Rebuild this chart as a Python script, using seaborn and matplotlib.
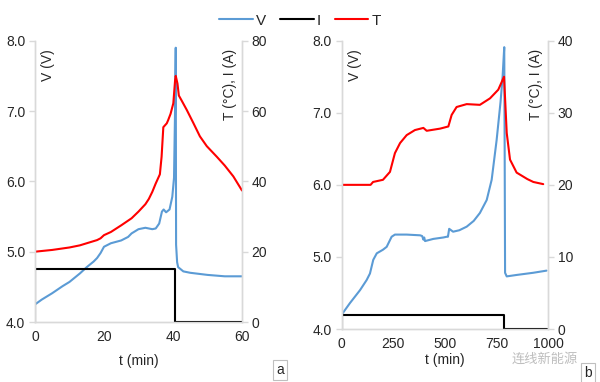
import matplotlib
matplotlib.use('Agg')
import matplotlib.pyplot as plt
from matplotlib.lines import Line2D
import seaborn as sns

sns.set_style('white')
plt.rcParams['font.family'] = ['Liberation Sans', 'DejaVu Sans']
plt.rcParams['font.size'] = 10

BLUE, BLACK, RED = '#5B9BD5', '#000000', '#FF0000'
GRID = '#D9D9D9'

# ---- panel a : 15 A charge ----
a_tv = [0, 2, 5, 8, 10, 13, 15, 17, 18, 19, 20, 22, 25, 27, 28, 30, 32, 34, 35, 36, 36.8, 37.3,
        38, 39, 39.8, 40.3, 40.6, 40.8, 40.9, 41.2, 41.5, 43, 45, 50, 55, 60]
a_v = [4.25, 4.32, 4.41, 4.51, 4.57, 4.69, 4.78, 4.86, 4.91, 4.98, 5.07, 5.12, 5.16, 5.21, 5.26,
       5.32, 5.34, 5.32, 5.33, 5.40, 5.57, 5.60, 5.56, 5.60, 5.78, 6.05, 7.0, 7.9, 5.1, 4.85,
       4.78, 4.72, 4.70, 4.67, 4.65, 4.65]
a_ti = [0, 0, 40.6, 40.6, 60]
a_i = [0, 15, 15, 0, 0]
a_tt = [0, 5, 10, 13, 15, 18, 19, 20, 22, 25, 28, 30, 32, 33, 34, 35, 36.2, 36.7, 37.2, 38.2,
        38.6, 39.3, 40.1, 40.6, 40.8, 41.3, 41.7, 42.5, 44, 45.9, 47.8, 49.8, 52.7, 55, 57.5, 60]
a_t = [20, 20.5, 21.2, 21.8, 22.4, 23.3, 23.8, 24.7, 25.6, 27.5, 29.5, 31.4, 33.5, 35, 37, 39.4,
       42, 47, 55.4, 56.5, 57.4, 59.2, 62.2, 68.6, 70, 67.8, 64.4, 63, 60.3, 56.6, 52.8, 50, 47,
       44.5, 41.4, 37.4]

# ---- panel b : 2 A charge ----
b_tv = [0, 40, 89, 121, 137, 153, 170, 200, 218, 242, 258, 315, 380, 390, 396, 400, 404, 444,
        493, 509, 515, 521, 540, 570, 606, 640, 670, 703, 727, 751, 770, 780, 788, 790, 792, 800,
        848, 928, 993]
b_v = [4.20, 4.36, 4.54, 4.68, 4.77, 4.96, 5.05, 5.10, 5.14, 5.28, 5.31, 5.31, 5.30, 5.29, 5.24,
       5.27, 5.22, 5.25, 5.27, 5.28, 5.28, 5.39, 5.35, 5.37, 5.42, 5.50, 5.61, 5.79, 6.07, 6.62,
       7.15, 7.50, 7.91, 6.5, 4.78, 4.73, 4.75, 4.78, 4.81]
b_ti = [0, 0, 788, 788, 995]
b_i = [0, 2, 2, 0, 0]
b_tt = [0, 140, 152, 200, 234, 258, 283, 315, 355, 396, 412, 477, 517, 533, 557, 606, 670, 719,
        759, 787, 800, 816, 848, 900, 929, 977]
b_t = [20, 20, 20.4, 20.7, 21.8, 24.4, 25.8, 26.9, 27.6, 27.9, 27.5, 27.8, 28.1, 29.7, 30.8,
       31.2, 31.1, 32.0, 33.2, 35.0, 27.2, 23.5, 21.7, 20.8, 20.4, 20.1]

v_ticks = [4.0, 5.0, 6.0, 7.0, 8.0]

fig = plt.figure(figsize=(6, 3.82), dpi=100)
ax_a = fig.add_axes([0.0583, 0.157, 0.345, 0.7365])
ax_b = fig.add_axes([0.5695, 0.1387, 0.3438, 0.7548])


def panel(ax, tv, v, ti, i, tt, t, xmax, xticks, ymax2, yticks2, lpad):
    ax2 = ax.twinx()
    sns.lineplot(x=tv, y=v, ax=ax, color=BLUE, lw=1.5, sort=False, estimator=None)
    sns.lineplot(x=ti, y=i, ax=ax2, color=BLACK, lw=1.5, sort=False, estimator=None)
    sns.lineplot(x=tt, y=t, ax=ax2, color=RED, lw=1.5, sort=False, estimator=None)
    ax.set_xlim(0, xmax)
    ax.set_ylim(4, 8)
    ax2.set_ylim(0, ymax2)
    ax.set_xticks(xticks)
    ax.set_yticks(v_ticks)
    ax.set_yticklabels([f'{x:.1f}' for x in v_ticks])
    ax2.set_yticks(yticks2)
    ax.set_xlabel('t (min)', labelpad=lpad)
    ax.set_ylabel('')
    ax2.set_ylabel('')
    for a in (ax, ax2):
        for s in ('left', 'right', 'bottom'):
            a.spines[s].set_color(GRID)
            a.spines[s].set_linewidth(1)
        a.spines['top'].set_visible(False)
        a.tick_params(axis='y', length=4, color=GRID, width=1, labelsize=10, pad=3)
        a.tick_params(axis='x', length=0, labelsize=10, pad=6)
    ax.text(0.03, 0.97, 'V (V)', transform=ax.transAxes, rotation=90,
            ha='left', va='top', fontsize=10)
    ax.text(0.975, 0.97, 'T (°C), I (A)', transform=ax.transAxes, rotation=90,
            ha='right', va='top', fontsize=10)
    return ax2


panel(ax_a, a_tv, a_v, a_ti, a_i, a_tt, a_t, 60, [0, 20, 40, 60], 80, [0, 20, 40, 60, 80], 7)
panel(ax_b, b_tv, b_v, b_ti, b_i, b_tt, b_t, 1000, [0, 250, 500, 750, 1000], 40,
      [0, 10, 20, 30, 40], 1)

handles = [Line2D([], [], color=BLUE, lw=1.5), Line2D([], [], color=BLACK, lw=1.5),
           Line2D([], [], color=RED, lw=1.5)]
fig.legend(handles, ['V', 'I', 'T'], loc='upper center', bbox_to_anchor=(0.5, 1.0), ncol=3,
           frameon=False, fontsize=11, handlelength=2.2, handletextpad=0.2, columnspacing=0.9)

box = dict(boxstyle='square,pad=0.25', facecolor='white', edgecolor='#BFBFBF', lw=0.8)
fig.text(280 / 600, 1 - 370 / 382, 'a', ha='center', va='center', fontsize=10, bbox=box)
fig.text(588 / 600, 1 - 373 / 382, 'b', ha='center', va='center', fontsize=10, bbox=box)
fig.text(545 / 600, 1 - 359 / 382, '连线新能源', ha='center', va='center', fontsize=9.5,
         color='#BDBDBD', family=['Noto Sans CJK SC', 'DejaVu Sans'])

fig.savefig('out.png', dpi=100)
